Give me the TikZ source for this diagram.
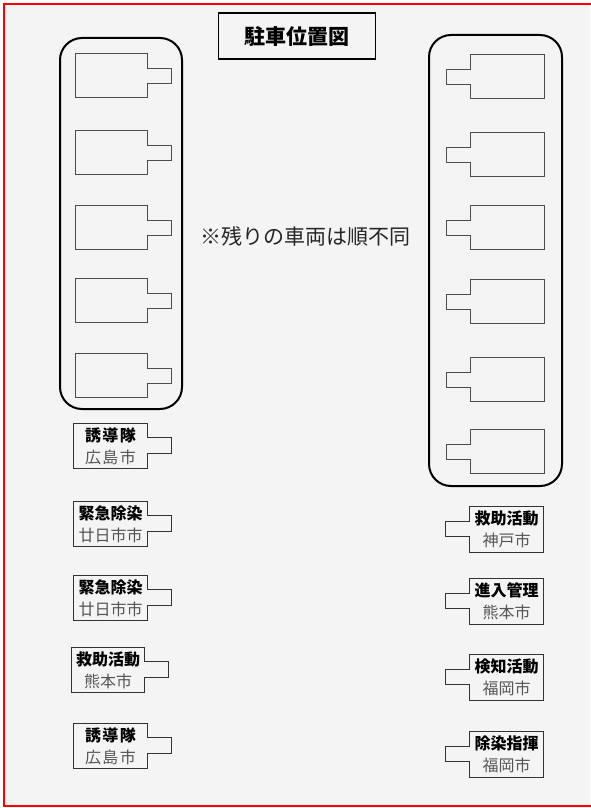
\documentclass[tikz,border=0pt]{standalone}
\usepackage{fontspec}
\setmainfont{Noto Sans CJK JP}
\definecolor{paper}{HTML}{F4F4F4}
\definecolor{subtext}{HTML}{555555}
\begin{document}
\begin{tikzpicture}[x=1pt,y=-1pt,
  unit/.style={minimum width=73pt,minimum height=45pt,inner sep=0pt,align=center,font=\fontsize{16}{22}\selectfont},
  unitline/.style={draw=black!80,line width=1.1pt},
  car/.style={draw=black!70,line width=0.9pt},
  lane/.style={draw=black,line width=2pt,rounded corners=22pt}]
		\useasboundingbox (0,0) rectangle (590,808);
		\fill[white] (0,0) rectangle (590,808);
		\fill[paper] (4,4) rectangle (590,806);
		\draw[red,line width=2.8pt] (596,4) -- (4,4) -- (4,806) -- (596,806);
		
		% title and note
		\node[draw,line width=1.6pt,minimum width=157pt,minimum height=46pt,font=\fontsize{21}{24}\selectfont\bfseries] (title) at (297,36) {駐車位置図};
		\node[font=\fontsize{21}{24}\selectfont,text=black!85] (note) at (305,236) {※残りの車両は順不同};
		
		% parking lanes
		\draw[lane] (60,38) rectangle (182,409);
		\draw[lane] (429,35) rectangle (562,486);
		
		% empty vehicles, left lane (facing right)
		\foreach \y in {53,130,205,278,353}
			\draw[car] (75,\y) -- ++(72,0) -- ++(0,15) -- ++(24,0) -- ++(0,15) -- ++(-24,0) -- ++(0,14) -- ++(-72,0) -- cycle;
		% empty vehicles, right lane (facing left)
		\foreach \y in {54,132,205,279,357,429}
			\draw[car] (544,\y) -- ++(-74,0) -- ++(0,15) -- ++(-24,0) -- ++(0,15) -- ++(24,0) -- ++(0,14) -- ++(74,0) -- cycle;
		
		% named vehicles, left column
		\node[unit] (l1) at (110.5,446) {\textbf{誘\kern1.5pt 導\kern1.5pt 隊}\\\textcolor{subtext}{広\kern1.5pt 島\kern1.5pt 市}};
		\node[unit] (l2) at (110.5,524) {\textbf{緊急除染}\\\textcolor{subtext}{廿日市市}};
		\node[unit] (l3) at (110.5,598) {\textbf{緊急除染}\\\textcolor{subtext}{廿日市市}};
		\node[unit] (l4) at (108,670) {\textbf{救助活動}\\\textcolor{subtext}{熊本市}};
		\node[unit] (l5) at (110.5,746) {\textbf{誘\kern1.5pt 導\kern1.5pt 隊}\\\textcolor{subtext}{広\kern1.5pt 島\kern1.5pt 市}};
		\foreach \n in {l1,l2,l3,l4,l5}
			\draw[unitline] (\n.north west) -- (\n.north east) -- ++(0,14) -- ++(24,0) -- ++(0,16) -- ++(-24,0) -- (\n.south east) -- (\n.south west) -- cycle;
		
		% named vehicles, right column
		\node[unit] (r1) at (506.5,529.5) {\textbf{救助活動}\\\textcolor{subtext}{神戸市}};
		\node[unit] (r2) at (506.5,601.5) {\textbf{進入管理}\\\textcolor{subtext}{熊本市}};
		\node[unit] (r3) at (506.5,677.5) {\textbf{検知活動}\\\textcolor{subtext}{福岡市}};
		\node[unit] (r4) at (506.5,754.5) {\textbf{除染指揮}\\\textcolor{subtext}{福岡市}};
		\foreach \n in {r1,r2,r3,r4}
			\draw[unitline] (\n.north east) -- (\n.north west) -- ++(0,15) -- ++(-24,0) -- ++(0,15) -- ++(24,0) -- (\n.south west) -- (\n.south east) -- cycle;
\end{tikzpicture}
\end{document}
